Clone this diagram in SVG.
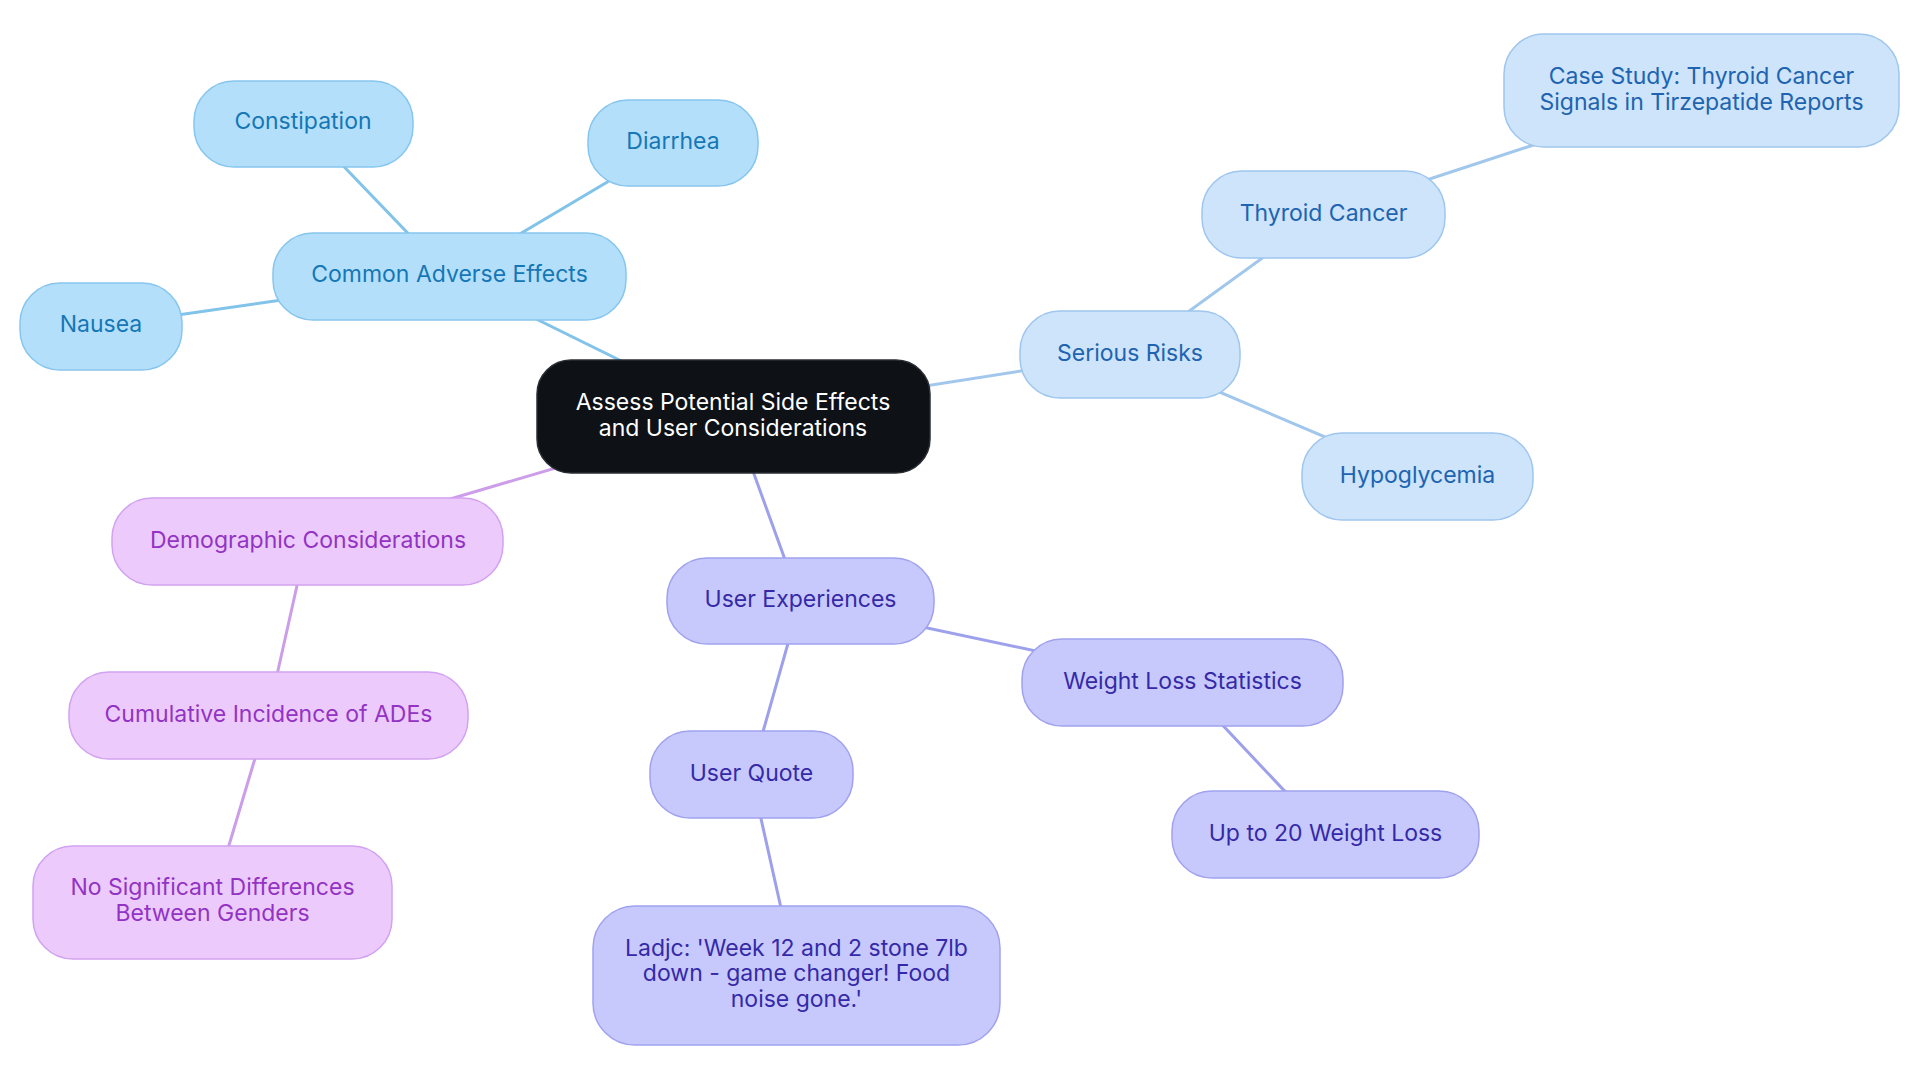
<svg xmlns="http://www.w3.org/2000/svg" width="1920" height="1083" viewBox="0 0 1920 1083">
<style>
text{font-family:Inter,"Noto Sans","Liberation Sans",sans-serif;font-size:23px;text-anchor:middle}
.c{fill:none;stroke-width:3;stroke-linecap:round}
.cb{stroke:#82c3ea}.cs{stroke:#a2c7ec}.cu{stroke:#9da0ea}.cp{stroke:#cc9de8}
.nb rect{fill:#b4dffb;stroke:#86c6ee;stroke-width:1.5}.nb text{fill:#1577b5}
.ns rect{fill:#cde4fb;stroke:#9fc6ee;stroke-width:1.5}.ns text{fill:#2063b0}
.nu rect{fill:#c7c9fd;stroke:#a0a2ee;stroke-width:1.5}.nu text{fill:#3529a8}
.np rect{fill:#eccbfc;stroke:#d2a2f0;stroke-width:1.5}.np text{fill:#9333c4}
</style>
<rect width="1920" height="1083" fill="#ffffff"/>
<g id="connectors">
<line class="c cb" x1="733" y1="416" x2="449" y2="276"/>
<line class="c cb" x1="449" y1="276" x2="303" y2="124"/>
<line class="c cb" x1="449" y1="276" x2="673" y2="143"/>
<line class="c cb" x1="449" y1="276" x2="101" y2="326"/>
<line class="c cs" x1="733" y1="416" x2="1130" y2="354"/>
<line class="c cs" x1="1130" y1="354" x2="1323" y2="214"/>
<line class="c cs" x1="1323" y1="214" x2="1701" y2="90"/>
<line class="c cs" x1="1130" y1="354" x2="1417" y2="476"/>
<line class="c cp" x1="733" y1="416" x2="307" y2="541"/>
<line class="c cp" x1="307" y1="541" x2="268" y2="715"/>
<line class="c cp" x1="268" y1="715" x2="212" y2="902"/>
<line class="c cu" x1="733" y1="416" x2="800" y2="601"/>
<line class="c cu" x1="800" y1="601" x2="1182" y2="682"/>
<line class="c cu" x1="1182" y1="682" x2="1325" y2="834"/>
<line class="c cu" x1="800" y1="601" x2="751" y2="774"/>
<line class="c cu" x1="751" y1="774" x2="796" y2="975"/>
</g>
<g id="center">
<rect x="537" y="360" width="393" height="113" rx="34" fill="#0e1217" stroke="#2a2e33" stroke-width="1.5"/>
<text x="733" y="410" fill="#ffffff">Assess Potential Side Effects</text>
<text x="733" y="436" fill="#ffffff">and User Considerations</text>
</g>
<g id="common-adverse-effects" class="nb">
<rect x="273" y="233" width="353" height="87" rx="40"/>
<text x="449.5" y="282">Common Adverse Effects</text>
</g>
<g id="constipation" class="nb">
<rect x="194" y="81" width="219" height="86" rx="40"/>
<text x="303" y="129">Constipation</text>
</g>
<g id="diarrhea" class="nb">
<rect x="588" y="100" width="170" height="86" rx="40"/>
<text x="673" y="149">Diarrhea</text>
</g>
<g id="nausea" class="nb">
<rect x="20" y="283" width="162" height="87" rx="40"/>
<text x="101" y="332">Nausea</text>
</g>
<g id="serious-risks" class="ns">
<rect x="1020" y="311" width="220" height="87" rx="40"/>
<text x="1130" y="361">Serious Risks</text>
</g>
<g id="thyroid-cancer" class="ns">
<rect x="1202" y="171" width="243" height="87" rx="40"/>
<text x="1323.5" y="221">Thyroid Cancer</text>
</g>
<g id="case-study" class="ns">
<rect x="1504" y="34" width="395" height="113" rx="40"/>
<text x="1701.5" y="84">Case Study: Thyroid Cancer</text>
<text x="1701.5" y="110">Signals in Tirzepatide Reports</text>
</g>
<g id="hypoglycemia" class="ns">
<rect x="1302" y="433" width="231" height="87" rx="40"/>
<text x="1417.5" y="483">Hypoglycemia</text>
</g>
<g id="demographic-considerations" class="np">
<rect x="112" y="498" width="391" height="87" rx="40"/>
<text x="308" y="548">Demographic Considerations</text>
</g>
<g id="cumulative-incidence" class="np">
<rect x="69" y="672" width="399" height="87" rx="40"/>
<text x="268.5" y="722">Cumulative Incidence of ADEs</text>
</g>
<g id="no-significant-differences" class="np">
<rect x="33" y="846" width="359" height="113" rx="40"/>
<text x="212.5" y="895">No Significant Differences</text>
<text x="212.5" y="921">Between Genders</text>
</g>
<g id="user-experiences" class="nu">
<rect x="667" y="558" width="267" height="86" rx="40"/>
<text x="800.5" y="607">User Experiences</text>
</g>
<g id="weight-loss-statistics" class="nu">
<rect x="1022" y="639" width="321" height="87" rx="40"/>
<text x="1182.5" y="689">Weight Loss Statistics</text>
</g>
<g id="up-to-20-weight-loss" class="nu">
<rect x="1172" y="791" width="307" height="87" rx="40"/>
<text x="1325.5" y="841">Up to 20 Weight Loss</text>
</g>
<g id="user-quote" class="nu">
<rect x="650" y="731" width="203" height="87" rx="40"/>
<text x="751.5" y="781">User Quote</text>
</g>
<g id="ladjc-quote" class="nu">
<rect x="593" y="906" width="407" height="139" rx="42"/>
<text x="796.5" y="956">Ladjc: 'Week 12 and 2 stone 7lb</text>
<text x="796.5" y="981">down - game changer! Food</text>
<text x="796.5" y="1007">noise gone.'</text>
</g>
</svg>
